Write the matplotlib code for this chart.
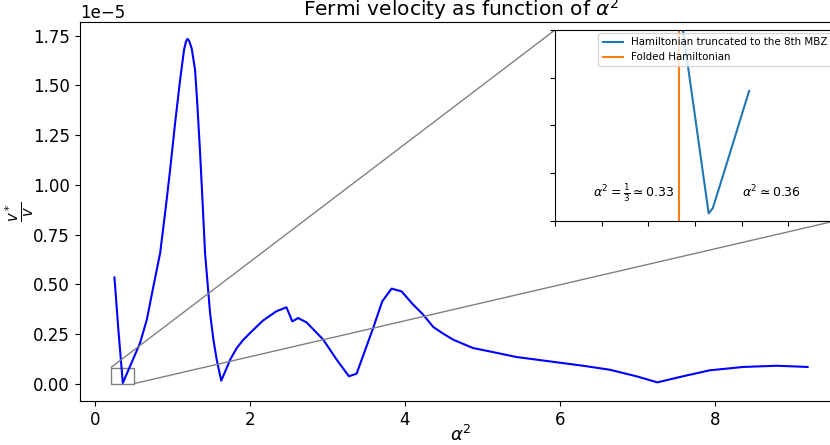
import matplotlib
matplotlib.use('Agg')
import matplotlib.pyplot as plt
import numpy as np
from matplotlib.ticker import MultipleLocator
from mpl_toolkits.axes_grid1.inset_locator import mark_inset

# Fermi velocity ratio v*/v (units of 1e-5) against alpha^2, full sweep
alpha2 = [0.249, 0.30, 0.357, 0.45, 0.58, 0.667, 0.752, 0.839, 0.903, 0.968,
          1.032, 1.097, 1.148, 1.172, 1.191, 1.212, 1.247, 1.29, 1.32, 1.355,
          1.39, 1.419, 1.462, 1.484, 1.527, 1.57, 1.628, 1.70, 1.742, 1.83,
          1.914, 2.04, 2.17, 2.34, 2.47, 2.546, 2.62, 2.73, 2.946, 3.118,
          3.277, 3.376, 3.59, 3.707, 3.828, 3.957, 4.1, 4.236, 4.366, 4.5,
          4.624, 4.88, 5.097, 5.44, 5.87, 6.3, 6.645, 6.99, 7.26, 7.59,
          7.935, 8.37, 8.8, 9.2]
v_ratio = [0.534, 0.27, 0.0035, 0.087, 0.205, 0.322, 0.489, 0.657, 0.858, 1.076,
           1.31, 1.528, 1.68, 1.72, 1.734, 1.726, 1.685, 1.579, 1.40, 1.16,
           0.89, 0.657, 0.456, 0.355, 0.221, 0.12, 0.015, 0.08, 0.12, 0.18,
           0.221, 0.27, 0.318, 0.364, 0.384, 0.313, 0.33, 0.308, 0.221, 0.121,
           0.037, 0.05, 0.28, 0.414, 0.478, 0.464, 0.40, 0.347, 0.285, 0.25,
           0.221, 0.179, 0.162, 0.134, 0.112, 0.09, 0.07, 0.037, 0.0065, 0.037,
           0.067, 0.084, 0.09, 0.084]

# Close-up near the first minimum, Hamiltonian truncated to the 8th MBZ
alpha2_zoom = [0.330, 0.340, 0.350, 0.3646, 0.369, 0.380, 0.395, 0.408]
v_ratio_zoom = [0.0995, 0.0717, 0.0439, 0.0032, 0.0053, 0.019, 0.038, 0.0545]
alpha2_folded = 1 / 3

scale = 1e-5
alpha2 = np.array(alpha2)
v_ratio = np.array(v_ratio) * scale
alpha2_zoom = np.array(alpha2_zoom)
v_ratio_zoom = np.array(v_ratio_zoom) * scale

fig = plt.figure(figsize=(8.3, 4.45), dpi=100)
ax = fig.add_axes([0.096, 0.099, 0.919, 0.852])
ax.plot(alpha2, v_ratio, color='b', lw=1.5)
ax.set_xlim(-0.2, 9.65)
ax.set_ylim(-0.087e-5, 1.82e-5)
ax.tick_params(labelsize=12)
ax.yaxis.get_offset_text().set_fontsize(12)
ax.set_xlabel(r'$\alpha^2$', fontsize=13, labelpad=-2.5)
ax.set_ylabel(r'$\frac{v^*}{v}$', fontsize=15)
ax.yaxis.set_label_coords(-0.057, 0.5)
ax.set_title(r'Fermi velocity as function of $\alpha^2$', fontsize=14.5, pad=0.5)

# inset
axins = fig.add_axes([0.6687, 0.5034, 0.3373, 0.4292])
axins.plot(alpha2_zoom, v_ratio_zoom, color='tab:blue', lw=1.5,
           label='Hamiltonian truncated to the 8th MBZ')
axins.axvline(alpha2_folded, color='tab:orange', lw=1.5, label='Folded Hamiltonian')
axins.set_xlim(0.2, 0.5)
axins.set_ylim(0, 0.08e-5)
axins.xaxis.set_major_locator(MultipleLocator(0.05))
axins.yaxis.set_major_locator(MultipleLocator(0.02e-5))
axins.set_xticklabels([])
axins.set_yticklabels([])
axins.text(0.241, 0.01e-5, r'$\alpha^2 = \frac{1}{3} \simeq 0.33$', fontsize=9)
axins.text(0.4, 0.01e-5, r'$\alpha^2 \simeq 0.36$', fontsize=9)
axins.legend(loc='upper right', fontsize=7.4, borderaxespad=0.3)

mark_inset(ax, axins, loc1=2, loc2=4, fc='none', ec='0.5')

fig.savefig('out.png', dpi=100)
